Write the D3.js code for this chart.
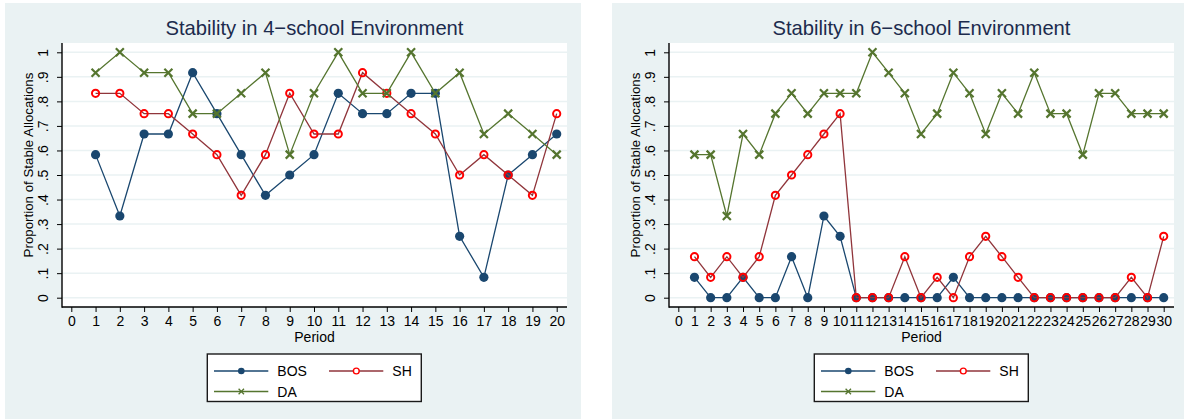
<!DOCTYPE html>
<html>
<head>
<meta charset="utf-8">
<script src="https://cdn.jsdelivr.net/npm/d3@7"></script>
<style>
  body { margin: 0; background: #fff; }
  svg { display: block; font-family: "Liberation Sans", Arial, sans-serif; }
</style>
</head>
<body>
<svg id="chart" width="1184" height="419"></svg>
<script>
// data (proportions in twelfths)
var periods4 = [1, 2, 3, 4, 5, 6, 7, 8, 9, 10, 11, 12, 13, 14, 15, 16, 17, 18, 19, 20];
var bos4 = [0.583, 0.333, 0.667, 0.667, 0.917, 0.75, 0.583, 0.417, 0.5, 0.583, 0.833, 0.75, 0.75, 0.833, 0.833, 0.25, 0.083, 0.5, 0.583, 0.667];
var sh4  = [0.833, 0.833, 0.75, 0.75, 0.667, 0.583, 0.417, 0.583, 0.833, 0.667, 0.667, 0.917, 0.833, 0.75, 0.667, 0.5, 0.583, 0.5, 0.417, 0.75];
var da4  = [0.917, 1, 0.917, 0.917, 0.75, 0.75, 0.833, 0.917, 0.583, 0.833, 1, 0.833, 0.833, 1, 0.833, 0.917, 0.667, 0.75, 0.667, 0.583];

var periods6 = [1, 2, 3, 4, 5, 6, 7, 8, 9, 10, 11, 12, 13, 14, 15, 16, 17, 18, 19, 20, 21, 22, 23, 24, 25, 26, 27, 28, 29, 30];
var bos6 = [0.083, 0, 0, 0.083, 0, 0, 0.167, 0, 0.333, 0.25, 0, 0, 0, 0, 0, 0, 0.083, 0, 0, 0, 0, 0, 0, 0, 0, 0, 0, 0, 0, 0];
var sh6  = [0.167, 0.083, 0.167, 0.083, 0.167, 0.417, 0.5, 0.583, 0.667, 0.75, 0, 0, 0, 0.167, 0, 0.083, 0, 0.167, 0.25, 0.167, 0.083, 0, 0, 0, 0, 0, 0, 0.083, 0, 0.25];
var da6  = [0.583, 0.583, 0.333, 0.667, 0.583, 0.75, 0.833, 0.75, 0.833, 0.833, 0.833, 1, 0.917, 0.833, 0.667, 0.75, 0.917, 0.833, 0.667, 0.833, 0.75, 0.917, 0.75, 0.75, 0.583, 0.833, 0.833, 0.75, 0.75, 0.75];

var yTicks = [0, 0.1, 0.2, 0.3, 0.4, 0.5, 0.6, 0.7, 0.8, 0.9, 1];
var xTicks4 = [0, 1, 2, 3, 4, 5, 6, 7, 8, 9, 10, 11, 12, 13, 14, 15, 16, 17, 18, 19, 20];
var xTicks6 = [0, 1, 2, 3, 4, 5, 6, 7, 8, 9, 10, 11, 12, 13, 14, 15, 16, 17, 18, 19, 20, 21, 22, 23, 24, 25, 26, 27, 28, 29, 30];
var seriesNames = ["BOS", "SH", "DA"];

var bg = "#eaf2f3";
var colBOS = "#1a476f", colSH = "#90353b", colSHmark = "#ff0000", colDA = "#55752f";

var svg = d3.select("#chart");

// panel layout (relative to panel origin)
var pw = 576, ph = 420;
var plot = { left: 57, right: 562, top: 40, bottom: 304 };

function yFmt(d) {
  if (d === 0) return "0";
  if (d === 1) return "1";
  return "." + Math.round(d * 10);
}

function drawX(g, cx, cy, s, w) {
  g.append("path")
    .attr("d", "M" + (cx - s) + "," + (cy - s) + "L" + (cx + s) + "," + (cy + s) +
               "M" + (cx - s) + "," + (cy + s) + "L" + (cx + s) + "," + (cy - s))
    .attr("stroke", colDA).attr("stroke-width", w).attr("fill", "none");
}

function drawPanel(ox, oy, title, periods, bos, sh, da, xTicks) {
  var g = svg.append("g").attr("transform", "translate(" + ox + "," + oy + ")");

  g.append("rect").attr("width", pw).attr("height", ph).attr("fill", bg);
  g.append("rect")
    .attr("x", plot.left).attr("y", plot.top)
    .attr("width", plot.right - plot.left).attr("height", plot.bottom - plot.top)
    .attr("fill", "#fff");

  var x = d3.scaleLinear().domain([0, xTicks[xTicks.length - 1]]).range([66.3, 551.7]);
  var y = d3.scaleLinear().domain([0, 1]).range([294.7, 49.3]);

  // grid
  g.append("g").selectAll("line").data(yTicks).enter().append("line")
    .attr("x1", plot.left).attr("x2", plot.right)
    .attr("y1", function(d) { return y(d); }).attr("y2", function(d) { return y(d); })
    .attr("stroke", bg).attr("stroke-width", 1.5);

  // y axis
  var ya = g.append("g").attr("transform", "translate(" + plot.left + ",0)")
    .call(d3.axisLeft(y).tickValues(yTicks).tickFormat(yFmt).tickSize(5).tickSizeOuter(0));
  ya.select(".domain").remove();
  ya.selectAll(".tick line").attr("stroke", "#000");
  ya.selectAll(".tick text")
    .attr("x", null).attr("dy", null)
    .attr("transform", "translate(-14,0) rotate(-90)")
    .attr("text-anchor", "middle")
    .attr("font-size", 14).attr("fill", "#000");

  // x axis
  var xa = g.append("g").attr("transform", "translate(0," + plot.bottom + ")")
    .call(d3.axisBottom(x).tickValues(xTicks).tickFormat(d3.format("d")).tickSize(5).tickSizeOuter(0).tickPadding(4));
  xa.select(".domain").remove();
  xa.selectAll(".tick line").attr("stroke", "#000");
  xa.selectAll(".tick text").attr("font-size", 14).attr("fill", "#000");

  // axis lines
  g.append("line").attr("x1", plot.left).attr("x2", plot.left)
    .attr("y1", plot.top).attr("y2", plot.bottom + 0.7)
    .attr("stroke", "#000").attr("stroke-width", 1.4);
  g.append("line").attr("x1", plot.left).attr("x2", plot.right)
    .attr("y1", plot.bottom).attr("y2", plot.bottom)
    .attr("stroke", "#000").attr("stroke-width", 1.4);

  // axis titles
  g.append("text")
    .attr("transform", "translate(27.5,162) rotate(-90)")
    .attr("text-anchor", "middle").attr("font-size", 13.3).attr("fill", "#000")
    .text("Proportion of Stable Allocations");
  g.append("text")
    .attr("x", (plot.left + plot.right) / 2).attr("y", 338.5)
    .attr("text-anchor", "middle").attr("font-size", 14).attr("fill", "#000")
    .text("Period");

  // title
  g.append("text")
    .attr("x", (plot.left + plot.right) / 2).attr("y", 32)
    .attr("text-anchor", "middle").attr("font-size", 20.2).attr("fill", "#1c2b4d")
    .text(title);

  var line = d3.line()
    .x(function(d) { return x(d[0]); })
    .y(function(d) { return y(d[1]); });

  function pairs(vals) {
    return periods.map(function(p, i) { return [p, vals[i]]; });
  }

  // BOS
  var bosData = pairs(bos);
  g.append("path").datum(bosData).attr("d", line)
    .attr("fill", "none").attr("stroke", colBOS).attr("stroke-width", 1.3);
  g.append("g").selectAll("circle").data(bosData).enter().append("circle")
    .attr("cx", function(d) { return x(d[0]); }).attr("cy", function(d) { return y(d[1]); })
    .attr("r", 4.6).attr("fill", colBOS);

  // SH
  var shData = pairs(sh);
  g.append("path").datum(shData).attr("d", line)
    .attr("fill", "none").attr("stroke", colSH).attr("stroke-width", 1.3);
  g.append("g").selectAll("circle").data(shData).enter().append("circle")
    .attr("cx", function(d) { return x(d[0]); }).attr("cy", function(d) { return y(d[1]); })
    .attr("r", 3.6).attr("fill", "none").attr("stroke", colSHmark).attr("stroke-width", 2);

  // DA
  var daData = pairs(da);
  g.append("path").datum(daData).attr("d", line)
    .attr("fill", "none").attr("stroke", colDA).attr("stroke-width", 1.3);
  daData.forEach(function(d) { drawX(g, x(d[0]), y(d[1]), 4, 2.2); });

  // legend
  var lg = g.append("g").attr("transform", "translate(202.3,351)");
  lg.append("rect").attr("width", 214).attr("height", 47.5)
    .attr("fill", "#fff").attr("stroke", "#1a1a1a").attr("stroke-width", 1.4);
  var items = [
    { name: seriesNames[0], col: colBOS, cx: 0, cy: 17 },
    { name: seriesNames[1], col: colSH, cx: 115, cy: 17 },
    { name: seriesNames[2], col: colDA, cx: 0, cy: 37.5 }
  ];
  items.forEach(function(it) {
    lg.append("line").attr("x1", it.cx + 6.7).attr("x2", it.cx + 61)
      .attr("y1", it.cy).attr("y2", it.cy)
      .attr("stroke", it.col).attr("stroke-width", 1.3);
    var mx = it.cx + 34;
    if (it.name === "BOS") {
      lg.append("circle").attr("cx", mx).attr("cy", it.cy).attr("r", 3.3).attr("fill", colBOS);
    } else if (it.name === "SH") {
      lg.append("circle").attr("cx", mx).attr("cy", it.cy).attr("r", 2.9)
        .attr("fill", "#fff").attr("stroke", colSHmark).attr("stroke-width", 1.4);
    } else {
      drawX(lg, mx, it.cy, 2.7, 1.3);
    }
    lg.append("text").attr("x", it.cx + 70).attr("y", it.cy + 5)
      .attr("font-size", 14).attr("fill", "#000").text(it.name);
  });
}

drawPanel(5, 3, "Stability in 4\u2212school Environment", periods4, bos4, sh4, da4, xTicks4);
drawPanel(612, 3, "Stability in 6\u2212school Environment", periods6, bos6, sh6, da6, xTicks6);
</script>
</body>
</html>
